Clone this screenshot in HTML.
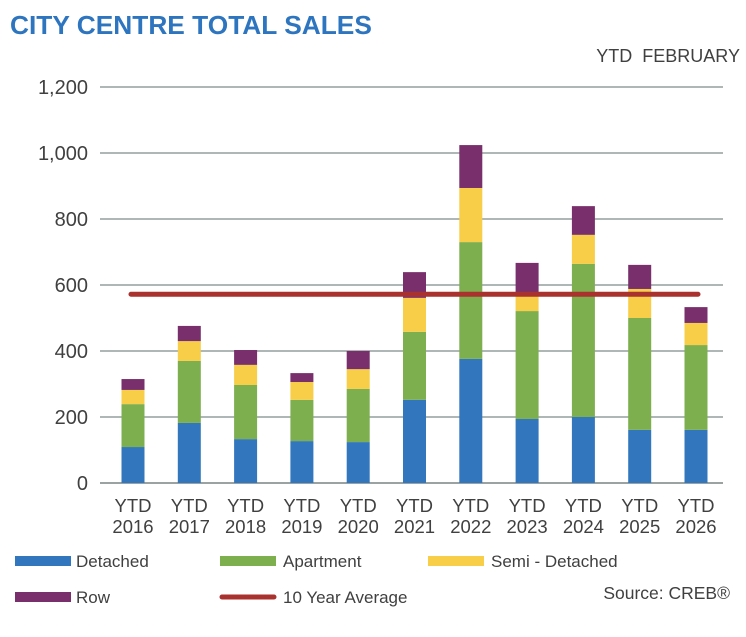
<!DOCTYPE html>
<html><head><meta charset="utf-8"><style>
body{margin:0;background:#fff;font-family:"Liberation Sans",sans-serif;}
svg text{font-family:"Liberation Sans",sans-serif;}
</style></head><body>
<svg width="746" height="632">
<text x="10" y="34" font-size="26.3" font-weight="bold" fill="#2e75c0">CITY CENTRE TOTAL SALES</text>
<text x="740" y="62" font-size="18" fill="#404040" text-anchor="end" word-spacing="5">YTD FEBRUARY</text>
<g id="grid"></g><g id="bars"></g><g id="xl"></g>
<line id="avg" stroke="#a9322f" stroke-width="5" stroke-linecap="round"/>
<g>
<rect x="15" y="556" width="56" height="10" fill="#3277bd"/>
<text x="76" y="567" font-size="17" fill="#404040">Detached</text>
<rect x="220" y="556" width="56" height="10" fill="#7daf4f"/>
<text x="283" y="567" font-size="17" fill="#404040">Apartment</text>
<rect x="428" y="556" width="56" height="10" fill="#f8cd48"/>
<text x="491" y="567" font-size="17" fill="#404040">Semi - Detached</text>
<rect x="15" y="592" width="56" height="10" fill="#782f6b"/>
<text x="76" y="603" font-size="17" fill="#404040">Row</text>
<line x1="222" y1="597" x2="274" y2="597" stroke="#a9322f" stroke-width="5" stroke-linecap="round"/>
<text x="283" y="603" font-size="17" fill="#404040">10 Year Average</text>
</g>
<text x="730" y="599" font-size="17.5" fill="#404040" text-anchor="end">Source: CREB®</text>
</svg>
<script>
const years=["2016","2017","2018","2019","2020","2021","2022","2023","2024","2025","2026"];
const detached=[109,182,133,127,124,252,376,194,200,161,161];
const apartment=[130,188,164,125,161,206,354,327,464,339,257];
const semi=[43,60,61,54,60,103,164,46,88,88,67];
const row=[33,46,45,27,55,78,130,100,87,73,48];
const average=572;
const yTicks=[0,200,400,600,800,1000,1200];
const yTickLabels=["0","200","400","600","800","1,000","1,200"];
const NS="http://www.w3.org/2000/svg";
const y=v=>483-v*0.33;
const x=i=>133+i*56.3;
function mk(t,a,p){const e=document.createElementNS(NS,t);for(const k in a)e.setAttribute(k,a[k]);p.appendChild(e);return e;}
const g=document.getElementById('grid');
yTicks.forEach((t,i)=>{
 const l=mk('line',{x1:100,x2:723,y1:y(t),y2:y(t),stroke:i==0?'#9aa2a2':'#7f8a8a','stroke-width':i==0?2:1.3},g);
 
 
 const tx=mk('text',{x:88,y:y(t)+7,'font-size':20,fill:'#404040','text-anchor':'end'},g);
 tx.textContent=yTickLabels[i];
 
 
});
const b=document.getElementById('bars');
const series=[[detached,'#3277bd','detached'],[apartment,'#7daf4f','apartment'],[semi,'#f8cd48','semi-detached'],[row,'#782f6b','row']];
years.forEach((yr,i)=>{
 let base=0;
 series.forEach(([arr,c,n])=>{
  const v=arr[i];
  const r=mk('rect',{x:x(i)-11.5,width:23,y:y(base+v),height:v*0.33,fill:c},b);
  
  
  base+=v;
 });
 const xl=document.getElementById('xl');
 ['YTD',yr].forEach((s,k)=>{
  const t=mk('text',{x:x(i),y:512+k*21,'font-size':18.5,fill:'#404040','text-anchor':'middle'},xl);
  t.textContent=s;
  
  
 });
});
const a=document.getElementById('avg');
a.setAttribute('x1',x(0)-2);a.setAttribute('x2',x(years.length-1)+2);
a.setAttribute('y1',y(average));a.setAttribute('y2',y(average));
</script>
</body></html>
